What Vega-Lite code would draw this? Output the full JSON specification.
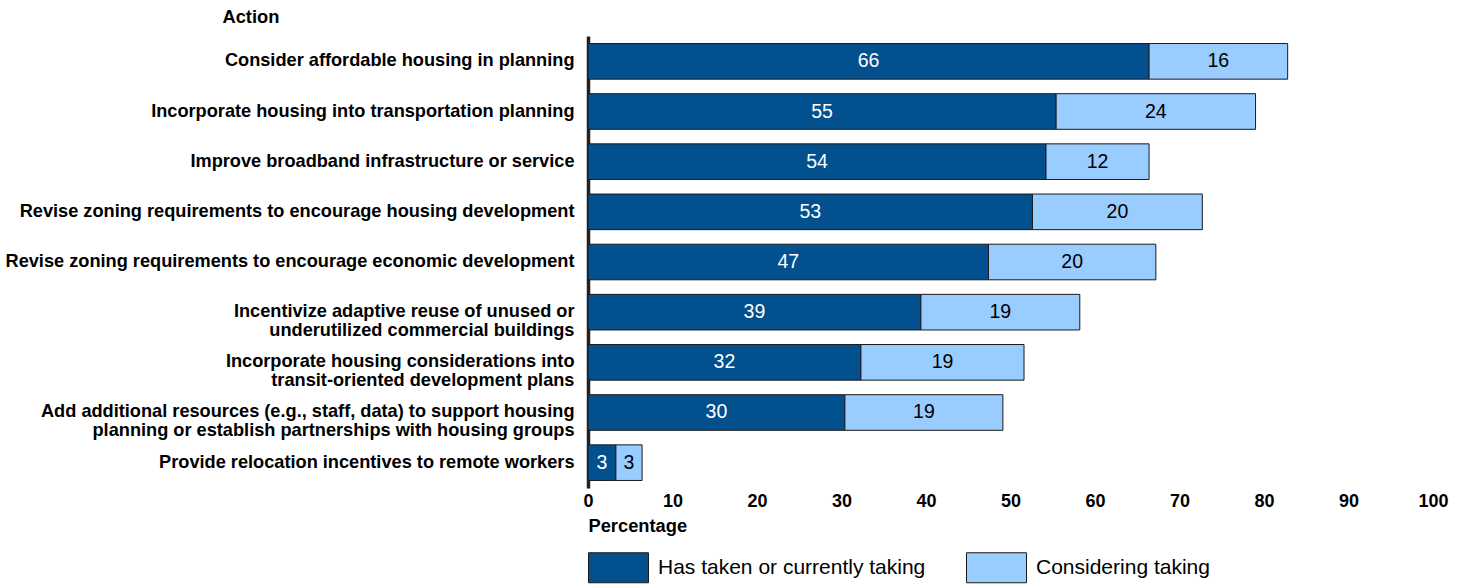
{
  "$schema": "https://vega.github.io/schema/vega-lite/v6.json",
  "autosize": {"type": "none"},
  "padding": {"left": 588, "top": 36, "right": 32, "bottom": 96},
  "width": 845,
  "height": 452,
  "background": "white",
  "config": {
    "view": {"stroke": null},
    "font": "Liberation Sans"
  },
  "data": {
    "values": [
      {"action": "Consider affordable housing in planning", "series": "Has taken or currently taking", "value": 66.4},
      {"action": "Consider affordable housing in planning", "series": "Considering taking", "value": 16.4},
      {"action": "Incorporate housing into transportation planning", "series": "Has taken or currently taking", "value": 55.4},
      {"action": "Incorporate housing into transportation planning", "series": "Considering taking", "value": 23.6},
      {"action": "Improve broadband infrastructure or service", "series": "Has taken or currently taking", "value": 54.2},
      {"action": "Improve broadband infrastructure or service", "series": "Considering taking", "value": 12.2},
      {"action": "Revise zoning requirements to encourage housing development", "series": "Has taken or currently taking", "value": 52.6},
      {"action": "Revise zoning requirements to encourage housing development", "series": "Considering taking", "value": 20.1},
      {"action": "Revise zoning requirements to encourage economic development", "series": "Has taken or currently taking", "value": 47.4},
      {"action": "Revise zoning requirements to encourage economic development", "series": "Considering taking", "value": 19.8},
      {"action": "Incentivize adaptive reuse of unused or|underutilized commercial buildings", "series": "Has taken or currently taking", "value": 39.4},
      {"action": "Incentivize adaptive reuse of unused or|underutilized commercial buildings", "series": "Considering taking", "value": 18.8},
      {"action": "Incorporate housing considerations into|transit-oriented development plans", "series": "Has taken or currently taking", "value": 32.3},
      {"action": "Incorporate housing considerations into|transit-oriented development plans", "series": "Considering taking", "value": 19.3},
      {"action": "Add additional resources (e.g., staff, data) to support  housing|planning or establish partnerships with housing groups", "series": "Has taken or currently taking", "value": 30.4},
      {"action": "Add additional resources (e.g., staff, data) to support  housing|planning or establish partnerships with housing groups", "series": "Considering taking", "value": 18.7},
      {"action": "Provide relocation incentives to remote workers", "series": "Has taken or currently taking", "value": 3.3},
      {"action": "Provide relocation incentives to remote workers", "series": "Considering taking", "value": 3.1}
    ]
  },
  "transform": [
    {"stack": "value", "groupby": ["action"], "sort": [{"field": "series", "order": "descending"}], "as": ["x0", "x1"]}
  ],
  "encoding": {
    "y": {
      "field": "action",
      "type": "nominal",
      "sort": null,
      "scale": {"paddingInner": 0.29, "paddingOuter": 0.15},
      "axis": {
        "title": "Action",
        "titleAngle": 0,
        "titleAlign": "left",
        "titleBaseline": "middle",
        "titleX": -366,
        "titleY": -19,
        "titleFontSize": 18.3,
        "titleFontWeight": "bold",
        "titleColor": "black",
        "labelExpr": "split(datum.label, '|')",
        "labelFontSize": 18.2,
        "labelFontWeight": "bold",
        "labelColor": "black",
        "labelLineHeight": 18.5,
        "labelPadding": 14,
        "labelLimit": 700,
        "ticks": false,
        "domainColor": "#222222",
        "domainWidth": 3.5,
        "domainCap": "butt"
      }
    }
  },
  "layer": [
    {
      "mark": {"type": "bar", "stroke": "#1a1a1a", "strokeWidth": 1},
      "encoding": {
        "x": {
          "field": "x0",
          "type": "quantitative",
          "scale": {"domain": [0, 100], "nice": false},
          "axis": {
            "values": [0, 10, 20, 30, 40, 50, 60, 70, 80, 90, 100],
            "grid": false,
            "domain": false,
            "ticks": false,
            "labelFlush": false,
            "labelFontSize": 18,
            "labelFontWeight": "bold",
            "labelColor": "black",
            "labelPadding": 4,
            "title": "Percentage",
            "titleAnchor": "start",
            "titleAlign": "left",
            "titleX": 0,
            "titleY": 29,
            "titleFontSize": 18.3,
            "titleFontWeight": "bold",
            "titleColor": "black"
          }
        },
        "x2": {"field": "x1"},
        "color": {
          "field": "series",
          "type": "nominal",
          "scale": {"domain": ["Has taken or currently taking", "Considering taking"], "range": ["#03508f", "#99ccff"]},
          "legend": {
            "title": null,
            "orient": "none",
            "direction": "horizontal",
            "legendX": 0,
            "legendY": 501,
            "symbolType": "M-1,-0.5H1V0.5H-1Z",
            "symbolSize": 3600,
            "symbolStrokeColor": "#1a1a1a",
            "symbolStrokeWidth": 1,
            "symbolOpacity": 1,
            "labelFontSize": 21,
            "labelColor": "black",
            "labelOffset": 9,
            "labelLimit": 400,
            "columnPadding": 38
          }
        }
      }
    },
    {
      "transform": [
        {"fold": ["x0", "x1"], "as": ["edge", "pos"]},
        {"aggregate": [{"op": "mean", "field": "pos", "as": "mid"}, {"op": "max", "field": "value", "as": "value"}], "groupby": ["action", "series"]}
      ],
      "mark": {"type": "text", "fontSize": 19.5, "align": "center", "baseline": "middle"},
      "encoding": {
        "x": {"field": "mid", "type": "quantitative"},
        "text": {"field": "value", "type": "quantitative", "format": ".0f"},
        "color": {
          "condition": {"test": "datum.series === 'Has taken or currently taking'", "value": "white"},
          "value": "black"
        }
      }
    }
  ]
}
